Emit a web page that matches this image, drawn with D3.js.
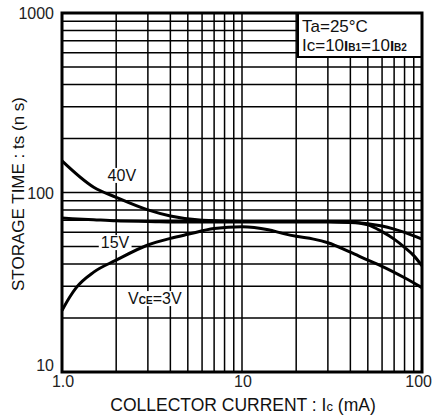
<!DOCTYPE html>
<html>
<head>
<meta charset="utf-8">
<script src="https://cdn.jsdelivr.net/npm/d3@7"></script>
<style>
  html, body { margin: 0; padding: 0; background: #fff; }
  svg { display: block; font-family: "Liberation Sans", Arial, sans-serif; }
</style>
</head>
<body>
<svg id="chart" width="433" height="417"></svg>
<script>
// ---- data ----
const xTickValues = [1, 10, 100];
const xTickLabels = ["1.0", "10", "100"];
const yTickValues = [10, 100, 1000];
const yTickLabels = ["10", "100", "1000"];

const i40 = [1, 1.5, 2, 3, 4, 6, 10, 20, 30, 40, 50, 60, 70, 80, 100];
const t40 = [150, 107, 94, 80, 74, 70, 69, 69, 69, 68.5, 67, 65, 62.5, 60, 55];

const i15 = [1, 1.5, 2, 3, 5, 10, 20, 30, 40, 50, 60, 70, 80, 90, 100];
const t15 = [72, 70.5, 69.5, 69, 68.5, 68.5, 68.5, 68.5, 68, 66, 60.5, 55, 49.5, 44.5, 39];

const i3 = [1, 1.1, 1.2, 1.5, 2, 3, 4, 5, 7, 10, 14, 17, 20, 25, 30, 40, 50, 60, 80, 100];
const t3 = [22, 26, 29.5, 36, 42, 51, 55.5, 58.5, 63, 64.5, 62, 59, 57, 55, 52.5, 46.5, 42, 38.8, 33.5, 29.5];

const labelNames = ["40V", "15V", "VCE=3V"];
const labelI = [2.15, 1.97, 3.28];
const labelT = [116, 49, 23.9];

// ---- layout ----
const svg = d3.select("#chart");
const pLeft = 62, pRight = 422, pTop = 13, pBottom = 372;
const x = d3.scaleLog().domain([1, 100]).range([pLeft, pRight]);
const y = d3.scaleLog().domain([10, 1000]).range([pBottom, pTop]);

// grid
const gridX = [];
[1, 10].forEach(d => { for (let k = 2; k <= 9; k++) gridX.push(d * k); });
gridX.push(10);
const gridY = [];
[10, 100].forEach(d => { for (let k = 2; k <= 9; k++) gridY.push(d * k); });
gridY.push(100);

const g = svg.append("g");
g.selectAll("line.gx").data(gridX).join("line")
  .attr("x1", d => x(d)).attr("x2", d => x(d))
  .attr("y1", pTop).attr("y2", pBottom)
  .attr("stroke", "#000").attr("stroke-width", 1.5);
g.selectAll("line.gy").data(gridY).join("line")
  .attr("y1", d => y(d)).attr("y2", d => y(d))
  .attr("x1", pLeft).attr("x2", pRight)
  .attr("stroke", "#000").attr("stroke-width", 1.5);

// curves
const line = d3.line().x(d => x(d[0])).y(d => y(d[1])).curve(d3.curveMonotoneX);
const series = [d3.zip(i40, t40), d3.zip(i15, t15), d3.zip(i3, t3)];
g.selectAll("path.curve").data(series).join("path")
  .attr("d", line)
  .attr("fill", "none").attr("stroke", "#000").attr("stroke-width", 3);

// curve labels with white background
const labG = svg.append("g").attr("font-size", 16).attr("fill", "#111");
labelNames.forEach((name, i) => {
  const gg = labG.append("g");
  const bg = gg.append("rect").attr("fill", "#fff");
  const t = gg.append("text")
    .attr("x", x(labelI[i])).attr("y", y(labelT[i]))
    .attr("text-anchor", "middle");
  if (name === "VCE=3V") {
    t.append("tspan").text("V");
    t.append("tspan").attr("font-size", 10).attr("font-weight", "bold").text("CE");
    t.append("tspan").text("=3V");
  } else {
    t.text(name);
  }
  const b = t.node().getBBox();
  bg.attr("x", b.x - 2).attr("y", b.y + 1).attr("width", b.width + 4).attr("height", b.height - 2);
});

// legend box
const lg = svg.append("g");
lg.append("rect").attr("x", 298).attr("y", pTop).attr("width", pRight - 298).attr("height", 44)
  .attr("fill", "#fff").attr("stroke", "#000").attr("stroke-width", 2);
lg.append("text").attr("x", 302).attr("y", 32).attr("font-size", 17).attr("fill", "#111").text("Ta=25°C");
const l2 = lg.append("text").attr("x", 302).attr("y", 51).attr("font-size", 17).attr("fill", "#111");
l2.append("tspan").text("Ic=10");
l2.append("tspan").attr("font-weight", "bold").attr("font-size", 15).text("I");
l2.append("tspan").attr("font-weight", "bold").attr("font-size", 10).text("B1");
l2.append("tspan").text("=10");
l2.append("tspan").attr("font-weight", "bold").attr("font-size", 15).text("I");
l2.append("tspan").attr("font-weight", "bold").attr("font-size", 10).text("B2");

// frame
svg.append("rect").attr("x", pLeft).attr("y", pTop).attr("width", pRight - pLeft).attr("height", pBottom - pTop)
  .attr("fill", "none").attr("stroke", "#000").attr("stroke-width", 3);

// tick labels
svg.append("g").selectAll("text").data(xTickValues).join("text")
  .attr("x", d => d === 100 ? 432 : x(d) + 1).attr("y", 387)
  .attr("text-anchor", d => d === 100 ? "end" : "middle")
  .attr("font-size", 16).attr("fill", "#222")
  .text((d, i) => xTickLabels[i]);
svg.append("g").selectAll("text").data(yTickValues).join("text")
  .attr("x", 54).attr("y", d => y(d) + (d === 10 ? -1 : 6))
  .attr("text-anchor", "end").attr("font-size", 16).attr("fill", "#222")
  .text((d, i) => yTickLabels[i]);

// axis titles
const xt = svg.append("text").attr("x", 243).attr("y", 411).attr("text-anchor", "middle")
  .attr("font-size", 17.5).attr("fill", "#111");
xt.append("tspan").text("COLLECTOR CURRENT : I");
xt.append("tspan").attr("font-size", 13).text("c");
xt.append("tspan").text(" (mA)");

svg.append("text").attr("transform", "translate(24,194) rotate(-90)")
  .attr("text-anchor", "middle").attr("font-size", 17).attr("fill", "#111")
  .text("STORAGE TIME : ts (n s)");
</script>
</body>
</html>
